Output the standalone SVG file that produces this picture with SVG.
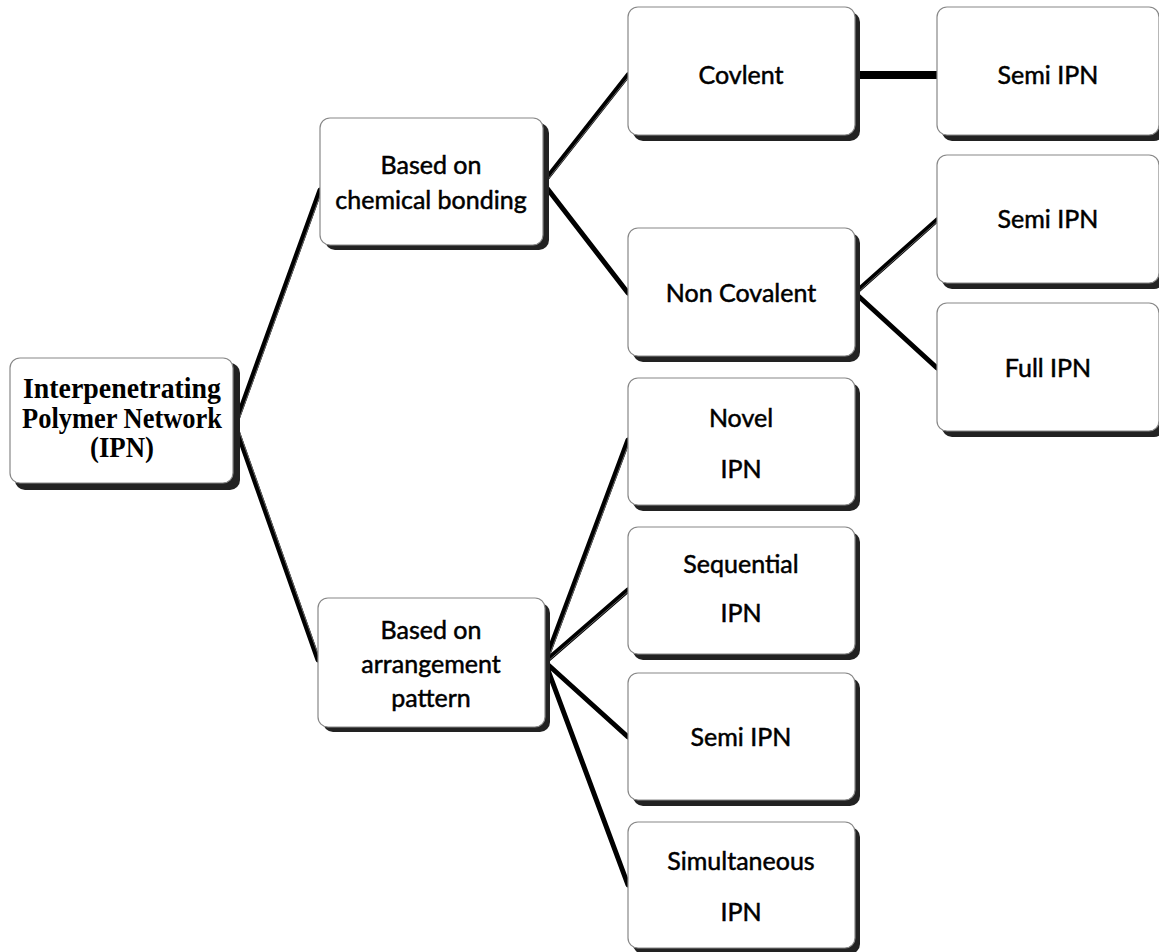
<svg xmlns="http://www.w3.org/2000/svg" width="1159" height="952" viewBox="0 0 1159 952">
<defs>
<style>
.box{fill:#fff;stroke:#888;stroke-width:1.2}
.sh{fill:#222}
.t{font-family:Lato,"Open Sans",sans-serif;font-size:25px;fill:#000;stroke:#000;stroke-width:0.5;text-anchor:middle}
.r{font-family:"Liberation Serif",serif;font-size:29px;font-weight:bold;fill:#000;text-anchor:middle}
.c{stroke:#000;stroke-width:5;fill:none;stroke-linecap:round}
.c2{stroke:#666;stroke-width:1;fill:none}
</style>
</defs>
<rect width="1159" height="952" fill="#fff"/>
<g id="connectors">
<path class="c" d="M235,425 L320,190 M235,425 L318,660"/>
<path class="c" d="M543,183 L628,75 M543,183 L628,293"/>
<path class="c" d="M855,293 L937,220 M855,293 L937,368"/>
<path d="M855,75 L937,75" stroke="#000" stroke-width="8"/>
<path class="c" d="M545,662 L628,440 M545,662 L628,590 M545,662 L628,737 M545,662 L628,885"/>
<path class="c2" d="M237,425 L322,190 M237,425 L320,660 M545,183 L630,75 M857,293 L939,220 M547,662 L630,440 M547,662 L630,590"/>
</g>
<g id="root">
<rect class="sh" x="15" y="363" width="225" height="127" rx="10"/>
<rect class="box" x="10" y="358" width="223" height="125" rx="10"/>
<text class="r" x="122" y="398" textLength="198" lengthAdjust="spacingAndGlyphs">Interpenetrating</text>
<text class="r" x="122" y="428" textLength="200" lengthAdjust="spacingAndGlyphs">Polymer Network</text>
<text class="r" x="122" y="457" textLength="64" lengthAdjust="spacingAndGlyphs">(IPN)</text>
</g>
<g id="chem">
<rect class="sh" x="325" y="123" width="224" height="127" rx="10"/>
<rect class="box" x="320" y="118" width="223" height="127" rx="10"/>
<text class="t" x="431" y="174">Based on</text>
<text class="t" x="431" y="209">chemical bonding</text>
</g>
<g id="arr">
<rect class="sh" x="323" y="603" width="227" height="129" rx="10"/>
<rect class="box" x="318" y="598" width="227" height="129" rx="10"/>
<text class="t" x="431" y="639">Based on</text>
<text class="t" x="431" y="673">arrangement</text>
<text class="t" x="431" y="707">pattern</text>
</g>
<g id="covlent">
<rect class="sh" x="633" y="12" width="227" height="129" rx="10"/>
<rect class="box" x="628" y="7" width="227" height="128" rx="10"/>
<text class="t" x="741" y="84">Covlent</text>
</g>
<g id="semi1">
<rect class="sh" x="942" y="12" width="222" height="129" rx="10"/>
<rect class="box" x="937" y="7" width="222" height="128" rx="10"/>
<text class="t" x="1048" y="84">Semi IPN</text>
</g>
<g id="noncov">
<rect class="sh" x="633" y="233" width="227" height="129" rx="10"/>
<rect class="box" x="628" y="228" width="227" height="128" rx="10"/>
<text class="t" x="741" y="302">Non Covalent</text>
</g>
<g id="semi2">
<rect class="sh" x="942" y="160" width="222" height="129" rx="10"/>
<rect class="box" x="937" y="155" width="222" height="128" rx="10"/>
<text class="t" x="1048" y="228">Semi IPN</text>
</g>
<g id="full">
<rect class="sh" x="942" y="308" width="222" height="129" rx="10"/>
<rect class="box" x="937" y="303" width="222" height="128" rx="10"/>
<text class="t" x="1048" y="377">Full IPN</text>
</g>
<g id="novel">
<rect class="sh" x="633" y="383" width="227" height="128" rx="10"/>
<rect class="box" x="628" y="378" width="227" height="127" rx="10"/>
<text class="t" x="741" y="427">Novel</text>
<text class="t" x="741" y="478">IPN</text>
</g>
<g id="seq">
<rect class="sh" x="633" y="532" width="227" height="128" rx="10"/>
<rect class="box" x="628" y="527" width="227" height="127" rx="10"/>
<text class="t" x="741" y="573">Sequential</text>
<text class="t" x="741" y="622">IPN</text>
</g>
<g id="semi3">
<rect class="sh" x="633" y="678" width="227" height="128" rx="10"/>
<rect class="box" x="628" y="673" width="227" height="127" rx="10"/>
<text class="t" x="741" y="746">Semi IPN</text>
</g>
<g id="simul">
<rect class="sh" x="633" y="827" width="227" height="127" rx="10"/>
<rect class="box" x="628" y="822" width="227" height="126" rx="10"/>
<text class="t" x="741" y="870">Simultaneous</text>
<text class="t" x="741" y="921">IPN</text>
</g>
</svg>
